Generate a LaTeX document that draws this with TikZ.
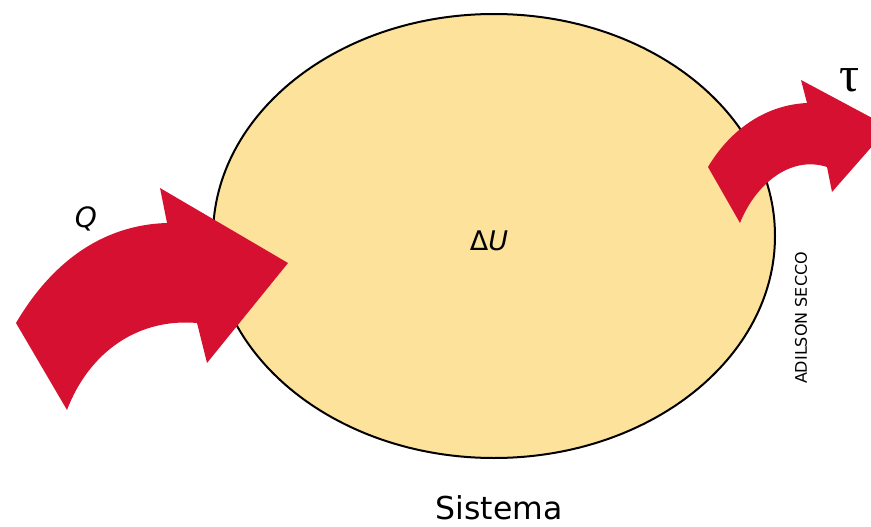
\documentclass[tikz,border=0pt]{standalone}
\usepackage{fontspec}
\setmainfont{DejaVu Sans}
\newfontfamily\taufont{Liberation Serif}
\usetikzlibrary{shapes.geometric}
\definecolor{sysfill}{RGB}{253,226,155}
\definecolor{flowred}{RGB}{213,16,48}
\tikzset{
  system/.style={ellipse, draw=black, line width=2pt, fill=sysfill,
    minimum width=562pt, minimum height=444pt, inner sep=0pt},
  flow/.style={fill=flowred, draw=none},
  lbl/.style={inner sep=0pt, anchor=center}
}
\begin{document}
\begin{tikzpicture}[x=1pt, y=-1pt]
  \useasboundingbox (0,0) rectangle (871,527);
  \clip (0,0) rectangle (871,527);

  % the system
  \node[system] (sys) at (494,236) {};

  % heat flowing in
  \fill[flow] (16,323) .. controls (50,265) and (100,225) .. (167,223)
    -- (160,188) -- (288,263) -- (207,363) -- (197,323)
    .. controls (140,318) and (90,350) .. (67,410) -- cycle;

  % work flowing out
  \fill[flow] (708,167) .. controls (730,130) and (765,105) .. (807,103)
    -- (801,80) -- (889,127) -- (832,192) -- (827,167)
    .. controls (790,155) and (755,185) .. (740,223) -- cycle;

  % labels
  \node[lbl, font=\fontsize{28}{30}\selectfont] (q) at (86,219) {\itshape Q};
  \node[lbl, font=\fontsize{50}{56}\selectfont] (tau) at (850,80) {\taufont τ};
  \node[lbl, font=\fontsize{27}{30}\selectfont] (du) at (489,241) {Δ\itshape U};
  \node[lbl, font=\fontsize{31.5}{36}\selectfont] (name) at (499,508) {Sistema};
  \node[lbl, font=\fontsize{16}{18}\selectfont, rotate=90] (credit) at (801,318) {ADILSON SECCO};
\end{tikzpicture}
\end{document}
